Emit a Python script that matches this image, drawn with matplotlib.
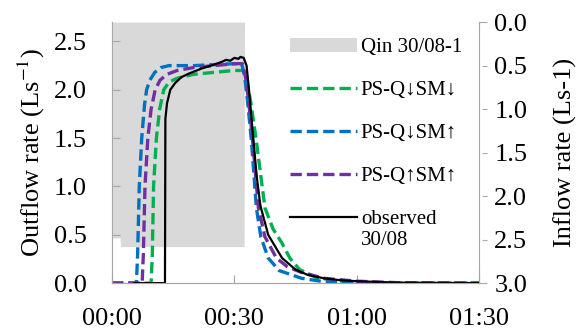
import matplotlib
matplotlib.use('Agg')
import matplotlib.pyplot as plt
from matplotlib.patches import FancyBboxPatch

# time in minutes
qin_t = [0.2, 2.0, 2.1, 32.4, 32.5]
qin_v = [2.48, 2.48, 2.58, 2.58, 0.0]

obs_t = [5.5, 13.0, 13.1, 13.5, 14.3, 15.5, 17, 19, 22, 25, 27, 28, 29, 30, 31, 31.5, 32.3,
         33.0, 33.6, 34.7, 35.5, 36.4, 38.3, 41.7, 45, 48, 52, 56, 60, 70, 90]
obs_v = [0, 0, 1.7, 1.86, 2.0, 2.07, 2.13, 2.17, 2.22, 2.26, 2.29, 2.31, 2.3, 2.33, 2.32, 2.34, 2.33,
         2.25, 2.0, 1.47, 1.1, 0.8, 0.5, 0.26, 0.14, 0.085, 0.05, 0.03, 0.02, 0.005, 0]

blue_t = [0, 6.0, 6.3, 6.7, 7.3, 8.0, 8.5, 9.3, 10.5, 12, 14, 20, 25, 30, 31.8,
          32.5, 33.2, 34.2, 35.4, 36.5, 38.3, 41, 46.5, 52, 60, 90]
blue_v = [0, 0, 0.3, 1.0, 1.5, 1.85, 2.0, 2.1, 2.18, 2.23, 2.25, 2.25, 2.26, 2.27, 2.27,
          2.15, 1.9, 1.47, 0.78, 0.48, 0.26, 0.13, 0.05, 0.015, 0, 0]

purple_t = [0, 7.4, 7.7, 8.1, 8.8, 9.6, 10.6, 11.8, 13.5, 16, 20, 25, 30, 32,
            32.8, 33.6, 34.5, 35.9, 37.5, 40.3, 43, 46.5, 52, 60, 70, 90]
purple_v = [0, 0, 0.3, 1.0, 1.5, 1.8, 2.0, 2.1, 2.16, 2.2, 2.23, 2.25, 2.27, 2.27,
            2.12, 1.85, 1.47, 0.78, 0.48, 0.26, 0.17, 0.11, 0.05, 0.02, 0.005, 0]

green_t = [0, 9.6, 9.9, 10.2, 10.9, 11.7, 12.7, 14, 16, 20, 25, 30, 32.2,
           33.0, 34.0, 35.4, 37.5, 39.5, 41.6, 43.6, 46, 50, 55, 60, 70, 90]
green_v = [0, 0, 0.3, 1.0, 1.5, 1.8, 2.0, 2.08, 2.12, 2.16, 2.18, 2.2, 2.2,
           2.12, 1.88, 1.47, 0.78, 0.56, 0.42, 0.26, 0.14, 0.06, 0.025, 0.01, 0, 0]

xticks = [0, 30, 60, 90]
xlabels = ['00:00', '00:30', '01:00', '01:30']

plt.rcParams['font.family'] = ['Liberation Serif', 'DejaVu Serif']
plt.rcParams['mathtext.fontset'] = 'stix'

fig = plt.figure(figsize=(5.8, 3.3), dpi=100)
ax = fig.add_axes([0.193, 0.142, 0.633, 0.791])
ax2 = ax.twinx()
ax.set_zorder(ax2.get_zorder() + 1)
ax.patch.set_visible(False)

qin = ax2.fill_between(qin_t, 0, qin_v, color='#d9d9d9', linewidth=0, label='Qin 30/08-1')
ax2.set_ylim(3.0, 0.0)
ax2.set_yticks([0, 0.5, 1.0, 1.5, 2.0, 2.5, 3.0])
ax2.set_yticklabels(['0.0', '0.5', '1.0', '1.5', '2.0', '2.5', '3.0'])

# white legend background (sits under the curves, over the inflow fill)
box = FancyBboxPatch((0.37, 0.05), 0.64, 0.93, boxstyle='round,pad=0,rounding_size=0.04',
                     transform=ax2.transAxes, facecolor='white', edgecolor='none',
                     zorder=3, clip_on=False)
ax2.add_patch(box)

dash = (3.4, 1.5)
ax.plot(green_t, green_v, color='#00b050', lw=2.4, ls=(0, dash), label='PS-Q↓SM↓')
ax.plot(blue_t, blue_v, color='#0070c0', lw=2.4, ls=(0, dash), label='PS-Q↓SM↑')
ax.plot(purple_t, purple_v, color='#7030a0', lw=2.4, ls=(0, dash), label='PS-Q↑SM↑')
ax.plot(obs_t, obs_v, color='black', lw=1.6, label='observed')

ax.set_xlim(0, 90)
ax.set_ylim(0, 2.7)
ax.set_xticks(xticks)
ax.set_xticklabels(xlabels)
ax.set_yticks([0, 0.5, 1.0, 1.5, 2.0, 2.5])
ax.set_yticklabels(['0.0', '0.5', '1.0', '1.5', '2.0', '2.5'])

for a in (ax, ax2):
    a.spines['top'].set_visible(False)
    for s in a.spines.values():
        s.set_color('#a6a6a6')
ax.tick_params(axis='x', direction='in', length=6, color='#a6a6a6', labelsize=19, pad=18)
ax.tick_params(axis='y', direction='in', length=6, color='#a6a6a6', labelsize=19, pad=18)
ax2.tick_params(axis='y', direction='out', length=6, color='#a6a6a6', labelsize=19, pad=5)

ax.set_ylabel('Outflow rate (Ls$^{-1}$)', fontsize=19, labelpad=5)
ax2.set_ylabel('Inflow rate (Ls-1)', fontsize=19, labelpad=19)

handles, labels = ax.get_legend_handles_labels()
leg = ax2.legend([qin] + handles, ['Qin 30/08-1'] + labels, loc='upper left',
                 bbox_to_anchor=(0.485, 0.94), borderaxespad=0, borderpad=0,
                 fontsize=15, handlelength=3.2, handletextpad=0.2, labelspacing=1.12,
                 frameon=False)
leg.set_zorder(4)

# second line of the last legend label, placed under "observed"
fig.canvas.draw()
bb = leg.get_texts()[-1].get_window_extent()
W, H = fig.get_size_inches() * fig.dpi
fig.text(bb.x0 / W, (bb.y0 - 2) / H, '30/08', ha='left', va='top', fontsize=15)

fig.savefig('out.png', dpi=100)
